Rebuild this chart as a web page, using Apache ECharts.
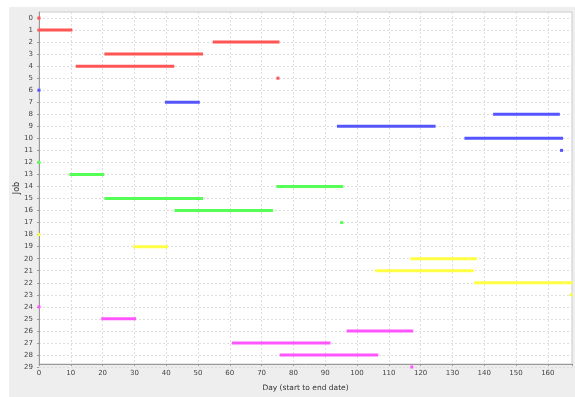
<!DOCTYPE html>
<html>
<head>
<meta charset="utf-8">
<script src="https://cdn.jsdelivr.net/npm/echarts@6/dist/echarts.min.js"></script>
<style>
    html, body { margin: 0; padding: 0; background: #fff; }
    .panel { position: absolute; left: 9px; top: 7px; right: 0; bottom: 0; background: #eeeeee; }
    .gantt { position: absolute; left: 0; top: 0; width: 575px; height: 397px; }
</style>
</head>
<body>
<div class="panel"></div>
<div class="gantt"></div>
<script>
// job rows, start / end day, colour group
var jobs = [0, 1, 2, 3, 4, 5, 6, 7, 8, 9, 10, 11, 12, 13, 14, 15, 16, 17, 18, 19, 20, 21, 22, 23, 24, 25, 26, 27, 28, 29];
var startDay = [0, 0, 55, 21, 12, 75, 0, 40, 143, 94, 134, 164, 0, 10, 75, 21, 43, 95, 0, 30, 117, 106, 137, 167, 0, 20, 97, 61, 76, 117];
var endDay = [0, 10, 75, 51, 42, 75, 0, 50, 163, 124, 164, 164, 0, 20, 95, 51, 73, 95, 0, 40, 137, 136, 167, 167, 0, 30, 117, 91, 106, 117];
var groupOf = [0, 0, 0, 0, 0, 0, 1, 1, 1, 1, 1, 1, 2, 2, 2, 2, 2, 2, 3, 3, 3, 3, 3, 3, 4, 4, 4, 4, 4, 4];
var dayTicks = [0, 10, 20, 30, 40, 50, 60, 70, 80, 90, 100, 110, 120, 130, 140, 150, 160];

(function () {
    var colors = ['#ff5555', '#5555ff', '#55ff55', '#ffff44', '#ff55ff'];
    var font = 'DejaVu Sans';
    var dayMax = 167.6;

    var rows = [];
    for (var i = 0; i < jobs.length; i++) {
        rows.push([startDay[i], endDay[i], jobs[i], groupOf[i]]);
    }

    function renderItem(params, api) {
        var p1 = api.coord([api.value(0), api.value(2)]);
        var p2 = api.coord([api.value(1), api.value(2)]);
        return {
            type: 'rect',
            shape: { x: p1[0] - 1.5, y: p1[1] - 1.5, width: p2[0] - p1[0] + 3, height: 3 },
            style: { fill: colors[api.value(3)] }
        };
    }

    var myChart = echarts.init(document.querySelector('.gantt'));
    var option = {
        backgroundColor: 'transparent',
        animation: false,
        grid: [
            { left: 39, right: 2, top: 12, bottom: 25, show: true, backgroundColor: '#fff', borderColor: '#cccccc', borderWidth: 1 },
            { left: 39, right: 2, top: 18, bottom: 30 }
        ],
        xAxis: [
            {
                gridIndex: 0,
                type: 'value',
                min: 0,
                max: dayMax,
                interval: 10,
                name: 'Day (start to end date)',
                nameLocation: 'middle',
                nameGap: 20,
                nameTextStyle: { color: '#333', fontSize: 7.5, fontFamily: font },
                axisLine: { show: true, lineStyle: { color: '#999' } },
                axisTick: { show: true, length: 2, lineStyle: { color: '#999' } },
                axisLabel: {
                    color: '#444',
                    fontSize: 7,
                    fontFamily: font,
                    margin: 6,
                    formatter: function (v) {
                        return dayTicks.indexOf(v) >= 0 ? String(v) : '';
                    }
                },
                splitLine: { show: true, lineStyle: { color: '#dddddd', type: [2, 2] } }
            },
            {
                gridIndex: 1,
                type: 'value',
                min: 0,
                max: dayMax,
                show: false
            }
        ],
        yAxis: [
            {
                gridIndex: 0,
                type: 'value',
                min: 0,
                max: 1,
                name: 'Job',
                nameLocation: 'middle',
                nameRotate: 90,
                nameGap: 18,
                nameTextStyle: { color: '#333', fontSize: 8, fontFamily: font },
                axisLine: { show: true, lineStyle: { color: '#999' } },
                axisTick: { show: false },
                axisLabel: { show: false },
                splitLine: { show: false }
            },
            {
                gridIndex: 1,
                type: 'value',
                inverse: true,
                min: 0,
                max: 29,
                interval: 1,
                axisLine: { show: false },
                axisTick: { show: true, length: 2, lineStyle: { color: '#999' } },
                axisLabel: { color: '#444', fontSize: 7, fontFamily: font, margin: 6 },
                splitLine: { show: true, lineStyle: { color: '#dddddd', type: [2, 2] } }
            }
        ],
        series: [
            {
                type: 'custom',
                xAxisIndex: 1,
                yAxisIndex: 1,
                renderItem: renderItem,
                clip: false,
                encode: { x: [0, 1], y: 2 },
                data: rows
            }
        ]
    };
    myChart.setOption(option);
    window.addEventListener('resize', function () {
        myChart.resize();
    });
})();
</script>
</body>
</html>
